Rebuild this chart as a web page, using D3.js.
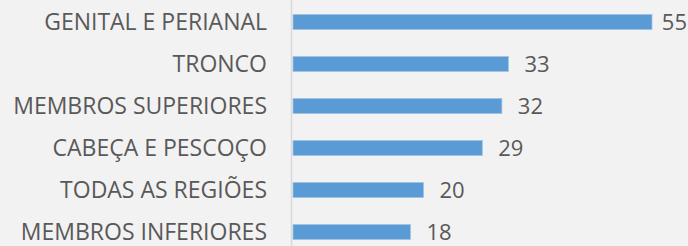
<!DOCTYPE html>
<html>
<head>
<meta charset="utf-8">
<script src="https://cdn.jsdelivr.net/npm/d3@7"></script>
<style>
  body { margin: 0; background: #f2f2f2; }
  svg { display: block; }
</style>
</head>
<body>
<div id="chart"></div>
<script>
// data
const regions = ["GENITAL E PERIANAL", "TRONCO", "MEMBROS SUPERIORES", "CABEÇA E PESCOÇO", "TODAS AS REGIÕES", "MEMBROS INFERIORES"];
const counts = [55, 33, 32, 29, 20, 18];

const data = regions.map((r, i) => ({region: r, count: counts[i]}));

// set the dimensions and margins of the graph
const W = 688, H = 246;
const margin = { top: 1, right: 36, bottom: 0, left: 293 };

const svg = d3.select("#chart")
  .append("svg")
  .attr("width", W)
  .attr("height", H)
  .style("background", "#f2f2f2");

const g = svg.append("g")
  .attr("transform", "translate(" + margin.left + "," + margin.top + ")");

// X scale
const x = d3.scaleLinear()
  .domain([0, 55])
  .range([0, 359]);

// Y band
const y = d3.scaleBand()
  .domain(regions)
  .range([0, 252])
  .paddingInner(0.64)
  .paddingOuter(0.32);

const font = "'Open Sans', sans-serif";

// category labels
g.selectAll(".cat")
  .data(data)
  .enter()
  .append("text")
  .attr("class", "cat")
  .attr("x", -26)
  .attr("y", d => y(d.region) + y.bandwidth() / 2)
  .attr("dy", "0.36em")
  .attr("text-anchor", "end")
  .style("font-family", font)
  .style("font-size", "23px")
  .style("fill", "#595959")
  .text(d => d.region);

// bars
g.selectAll(".bar")
  .data(data)
  .enter()
  .append("rect")
  .attr("class", "bar")
  .attr("x", x(0))
  .attr("y", d => y(d.region))
  .attr("width", d => x(d.count) - x(0))
  .attr("height", y.bandwidth())
  .attr("fill", "#5b9bd5")
  .attr("stroke", "#9dc3e6")
  .attr("stroke-width", 0.75);

// value labels (kept inside the picture, like the original does for the longest bar)
g.selectAll(".val")
  .data(data)
  .enter()
  .append("text")
  .attr("class", "val")
  .attr("y", d => y(d.region) + y.bandwidth() / 2)
  .attr("dy", "0.36em")
  .style("font-family", font)
  .style("font-size", "22px")
  .style("fill", "#595959")
  .text(d => d.count)
  .attr("x", function (d) {
    const maxX = W - margin.left - 1 - this.getComputedTextLength();
    return Math.min(x(d.count) + 16, maxX);
  });

// vertical axis line
g.append("line")
  .attr("x1", -1.5).attr("x2", -1.5)
  .attr("y1", -margin.top).attr("y2", H)
  .attr("stroke", "#d9d9d9")
  .attr("stroke-width", 1.5);
</script>
</body>
</html>
